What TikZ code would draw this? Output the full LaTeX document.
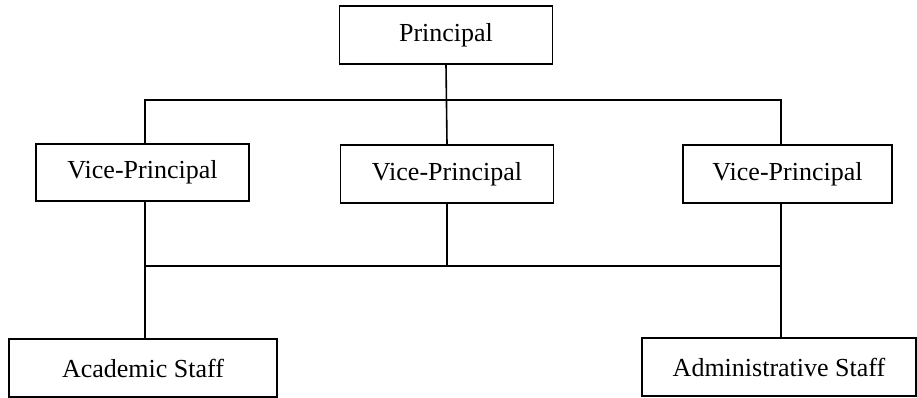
\documentclass[tikz,border=0pt]{standalone}
\usepackage{fontspec}
\setmainfont{Liberation Serif}
\begin{document}
\begin{tikzpicture}[x=1pt,y=-1pt,
  box/.style={draw, line width=1.6pt, inner sep=0pt, font=\fontsize{26}{31}\selectfont},
  conn/.style={line width=1.6pt}]
\useasboundingbox (0,0) rectangle (917,398);
\node[box, minimum width=213pt, minimum height=58pt] (P) at (446,35) {Principal};
\node[box, minimum width=213pt, minimum height=57pt] (V1) at (142.5,172.5) {Vice-Principal};
\node[box, minimum width=213pt, minimum height=58pt] (V2) at (447,174) {Vice-Principal};
\node[box, minimum width=209pt, minimum height=58pt] (V3) at (787.5,174) {Vice-Principal};
\node[box, minimum width=268pt, minimum height=58pt] (AS) at (143,368) {Academic Staff};
\node[box, minimum width=274pt, minimum height=58pt] (AD) at (779,367) {Administrative Staff};
\coordinate (tl) at (145,100);
\coordinate (tr) at (781,100);
\coordinate (bl) at (145,266);
\coordinate (br) at (781,266);
\draw[conn] (P.south) -- (V2.north);
\draw[conn] (V1.north -| tl) -- (tl) -- (tr) -- (V3.north -| tr);
\draw[conn] (bl) -- (br);
\draw[conn] (V1.south -| bl) -- (bl);
\draw[conn] (V3.south -| br) -- (br);
\draw[conn] (V2.south) -- (V2.south |- bl);
\draw[conn] (bl) -- (AS.north -| bl);
\draw[conn] (br) -- (AD.north -| br);
\end{tikzpicture}
\end{document}
